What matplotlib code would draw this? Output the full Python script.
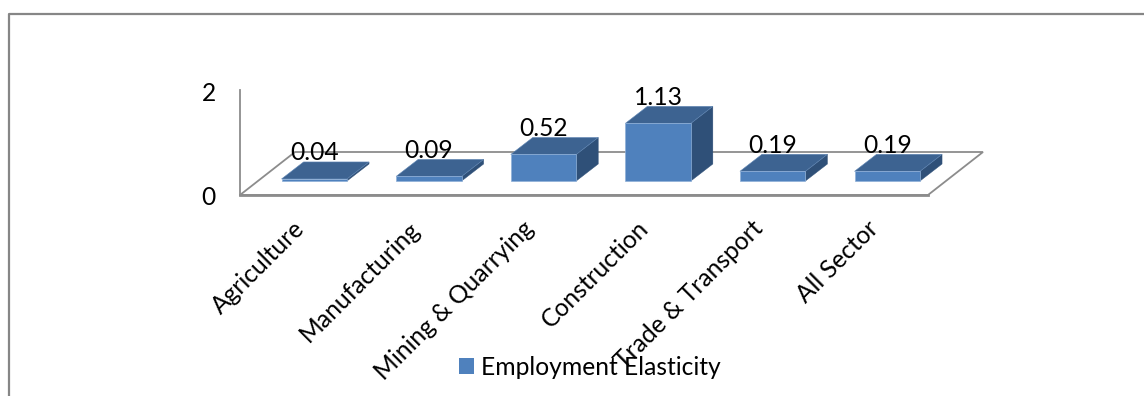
import matplotlib
matplotlib.use('Agg')
import matplotlib.pyplot as plt
from matplotlib.patches import Polygon, Rectangle

categories = ['Agriculture', 'Manufacturing', 'Mining & Quarrying', 'Construction',
              'Trade & Transport', 'All Sector']
elasticity = [0.04, 0.09, 0.52, 1.13, 0.19, 0.19]
series_name = 'Employment Elasticity'
axis_ticks = [0, 2]

plt.rcParams['font.family'] = ['Lato', 'DejaVu Sans']

W, H = 1144, 396
px_per_cat = 114.6   # horizontal pixels between two bars
px_per_val = 51.0    # vertical pixels for one unit
x0_px = 314.3        # pixel x of first category
y0_px = 181.0        # pixel y of the bars' base
fsize = 17.7

fig = plt.figure(figsize=(W / 100, H / 100), dpi=100)
ax = fig.add_axes([0, 0, 1, 1])
ax.set_xlim(-x0_px / px_per_cat, (W - x0_px) / px_per_cat)
ax.set_ylim((y0_px - H) / px_per_val, y0_px / px_per_val)
ax.axis('off')

# 3d look, in axis units
bar_w = 65.5 / px_per_cat
dep_x = 22 / px_per_cat
dep_y = 17 / px_per_val

front_col = '#4F81BD'
top_col = '#3D6391'
side_col = '#2F5078'
grid_col = '#8C8C8C'

# outer frame of the chart, only left and top are in the picture
fig.add_artist(plt.Line2D([8.5 / W, 8.5 / W, 1], [0, 1 - 13.5 / H, 1 - 13.5 / H],
                          color='#868686', lw=1.6))

# floor and value axis
fl = -14 / px_per_val
back = 29 / px_per_val
xl = -74.3 / px_per_cat
xr = 613.7 / px_per_cat
fl_dx = 55 / px_per_cat
ax.add_patch(Polygon([(xl, fl), (xr, fl), (xr + fl_dx, back), (xl + fl_dx, back)],
                     closed=True, fill=False, edgecolor=grid_col, lw=1.3))
ax.plot([xl, xl], [fl, 91 / px_per_val], color=grid_col, lw=1.3)
ax.plot([xl, xr], [fl, fl], color=grid_col, lw=2)

for tick, yp in zip(axis_ticks, [fl, 90 / px_per_val]):
    ax.annotate(str(tick), (xl, yp), xytext=(-22.5, -2), textcoords='offset points',
                fontsize=fsize, ha='center', va='center', color='black')

for i, v in enumerate(elasticity):
    l = i - bar_w / 2
    r = i + bar_w / 2
    ax.add_patch(Polygon([(r, 0), (r + dep_x, dep_y), (r + dep_x, v + dep_y), (r, v)],
                         closed=True, facecolor=side_col, edgecolor=side_col, lw=0.3, zorder=3))
    ax.add_patch(Polygon([(l, v), (r, v), (r + dep_x, v + dep_y), (l + dep_x, v + dep_y)],
                         closed=True, facecolor=top_col, edgecolor='#5F86B5', lw=0.4, zorder=3))
    ax.add_patch(Rectangle((l, 0), bar_w, v, facecolor=front_col, edgecolor='#8FB0D8', lw=0.5, zorder=4))
    ax.annotate(f'{v:.2f}', (i, v + dep_y), xytext=(0, 6.5), textcoords='offset points',
                fontsize=fsize, ha='center', va='center', color='black', zorder=5)

# category labels run at 45 degrees under the floor
for i, name in enumerate(categories):
    ax.annotate(name, (i, fl), xytext=(-9.5, -21.5), textcoords='offset points', fontsize=fsize,
                rotation=45, rotation_mode='anchor', ha='right', va='center', color='black', zorder=6)

leg_handle = Rectangle((0, 0), 1, 1, facecolor=front_col)
fig.legend([leg_handle], [series_name], loc='center left', bbox_to_anchor=(459 / W, 1 - 367.5 / H),
           frameon=False, fontsize=fsize, handlelength=0.62, handleheight=0.62, handletextpad=0.28,
           borderpad=0, borderaxespad=0)

fig.savefig('out.png', dpi=100)
